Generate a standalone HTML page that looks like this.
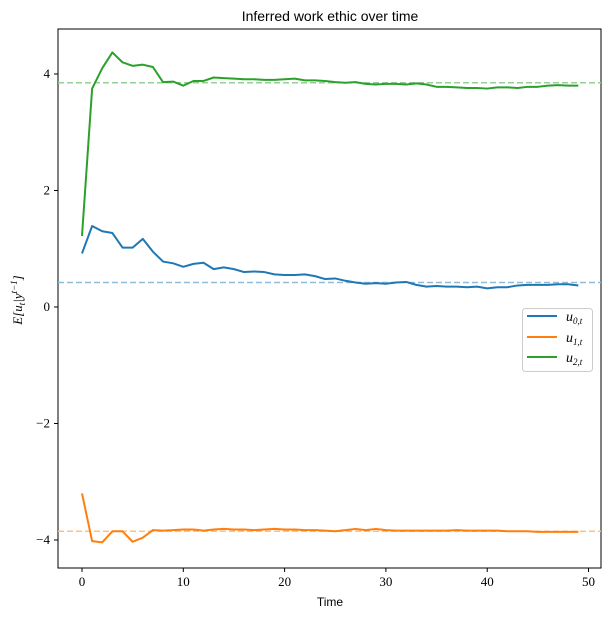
<!DOCTYPE html>
<html><head><meta charset="utf-8"><style>
body{margin:0;background:#fff;}
text{font-family:"Liberation Sans",sans-serif;}
text.serif{font-family:"Liberation Serif",serif;}
</style></head><body>
<svg id="chart" width="610" height="618" xmlns="http://www.w3.org/2000/svg">
<text x="330" y="21" font-size="14" text-anchor="middle">Inferred work ethic over time</text>
<rect x="58" y="29" width="543" height="539" fill="none" stroke="#000" stroke-width="1"/>
<g id="ticks"></g>
<g id="series"></g>
<text x="330" y="606" font-size="12" text-anchor="middle">Time</text>
<text class="serif" transform="translate(22,300) rotate(-90)" font-size="13" style="font-style:italic;font-family:'Liberation Serif',serif" text-anchor="middle">E[u<tspan font-size="9" dy="3">t</tspan><tspan dy="-3">|y</tspan><tspan font-size="9" dy="-5">t−1</tspan><tspan dy="5">]</tspan></text>
<g>
<rect x="522.5" y="308.5" width="70" height="63" rx="3" fill="#fff" stroke="#ccc"/>
<line x1="527" y1="316" x2="557" y2="316" stroke="#1f77b4" stroke-width="2"/>
<text class="serif" x="566" y="321" font-size="14" style="font-style:italic;font-family:'Liberation Serif',serif">u<tspan font-size="9" dy="3">0,t</tspan></text>
<line x1="527" y1="337" x2="557" y2="337" stroke="#ff7f0e" stroke-width="2"/>
<text class="serif" x="566" y="342" font-size="14" style="font-style:italic;font-family:'Liberation Serif',serif">u<tspan font-size="9" dy="3">1,t</tspan></text>
<line x1="527" y1="357" x2="557" y2="357" stroke="#2ca02c" stroke-width="2"/>
<text class="serif" x="566" y="362" font-size="14" style="font-style:italic;font-family:'Liberation Serif',serif">u<tspan font-size="9" dy="3">2,t</tspan></text>
</g>
</svg>
<script>
const xTicks=[0,10,20,30,40,50];
const yTicks=[-4,-2,0,2,4];
const u0=[0.92,1.39,1.3,1.27,1.02,1.02,1.17,0.95,0.78,0.75,0.69,0.74,0.76,0.65,0.68,0.65,0.6,0.61,0.6,0.56,0.55,0.55,0.56,0.53,0.48,0.49,0.45,0.42,0.4,0.41,0.4,0.42,0.43,0.38,0.35,0.36,0.35,0.35,0.34,0.35,0.32,0.34,0.34,0.37,0.38,0.38,0.38,0.39,0.39,0.37];
const u1=[-3.2,-4.02,-4.04,-3.85,-3.85,-4.03,-3.96,-3.83,-3.84,-3.83,-3.82,-3.82,-3.84,-3.82,-3.81,-3.82,-3.82,-3.83,-3.82,-3.81,-3.82,-3.82,-3.83,-3.83,-3.84,-3.85,-3.83,-3.81,-3.83,-3.81,-3.83,-3.84,-3.84,-3.84,-3.84,-3.84,-3.84,-3.83,-3.84,-3.84,-3.84,-3.84,-3.85,-3.85,-3.85,-3.86,-3.86,-3.86,-3.86,-3.86];
const u2=[1.22,3.75,4.1,4.37,4.2,4.14,4.16,4.12,3.86,3.87,3.8,3.88,3.88,3.94,3.93,3.92,3.91,3.91,3.9,3.9,3.91,3.92,3.89,3.89,3.88,3.86,3.85,3.86,3.83,3.82,3.83,3.83,3.82,3.84,3.82,3.78,3.78,3.77,3.76,3.76,3.75,3.77,3.77,3.76,3.78,3.78,3.8,3.81,3.8,3.8];
const trueVals=[0.42,-3.85,3.85];
const colors=['#1f77b4','#ff7f0e','#2ca02c'];
const lightColors=['#8fbbd9','#ffbf86','#95cf95'];
const names=['u0','u1','u2'];
const NS='http://www.w3.org/2000/svg';
const xs=v=>82+v*10.13;
const ys=v=>307-v*58.25;
const tg=document.getElementById('ticks'), sg=document.getElementById('series');
function mk(tag,attrs,parent){const e=document.createElementNS(NS,tag);for(const k in attrs)e.setAttribute(k,attrs[k]);parent.appendChild(e);return e;}
xTicks.forEach(t=>{
  const l=mk('line',{x1:xs(t),x2:xs(t),y1:568,y2:572,stroke:'#000'},tg);
  
  
  const tx=mk('text',{x:xs(t),y:586,'font-size':13,'text-anchor':'middle','class':'serif'},tg);
  tx.textContent=t;
  
  
});
yTicks.forEach(t=>{
  const l=mk('line',{x1:54,x2:58,y1:ys(t),y2:ys(t),stroke:'#000'},tg);
  
  
  const tx=mk('text',{x:50,y:ys(t)+4,'font-size':13,'text-anchor':'end','class':'serif'},tg);
  tx.textContent=(t<0?'−'+(-t):t);
  
  
});
[u0,u1,u2].forEach((s,i)=>{
  const d=mk('line',{x1:58,x2:601,y1:ys(trueVals[i]),y2:ys(trueVals[i]),stroke:lightColors[i],'stroke-width':1.5,'stroke-dasharray':'6,3'},sg);
  
  
});
[u0,u1,u2].forEach((s,i)=>{
  const p=mk('polyline',{points:s.map((v,j)=>xs(j)+','+ys(v)).join(' '),fill:'none',stroke:colors[i],'stroke-width':2,'stroke-linejoin':'round'},sg);
  
  
});
</script>
</body></html>
